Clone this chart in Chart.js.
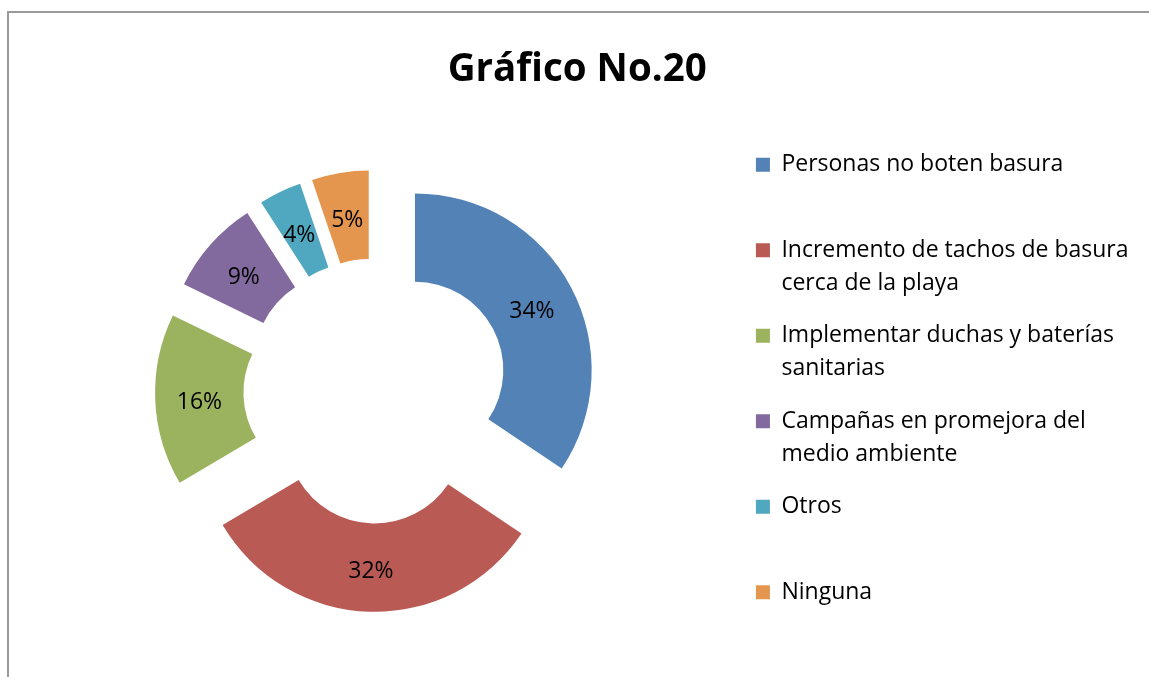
<!DOCTYPE html>
<html lang="es">
<head>
    <meta charset="UTF-8">
    <meta name="viewport" content="width=device-width, initial-scale=1.0">
    <title>Gráfico No.20</title>
    <style>
        body { margin: 0; background: #fff; overflow: hidden; }
        .marco {
            position: absolute; left: 7px; top: 11px; width: 1200px; height: 720px;
            border-left: 2px solid #9a9a9a; border-top: 2px solid #9a9a9a;
        }
        .chart_container { position: absolute; left: 0; top: 0; width: 1149px; height: 677px; }
    </style>
</head>
<body>
    <div class="marco"></div>
    <div class="chart_container">
        <canvas id="grafico"></canvas>
    </div>
</body>

<script src="https://cdn.jsdelivr.net/npm/chart.js"></script>
<script>
    const categorias = [
        'Personas no boten basura',
        'Incremento de tachos de basura cerca de la playa',
        'Implementar duchas y baterías sanitarias',
        'Campañas en promejora del medio ambiente',
        'Otros',
        'Ninguna'
    ];
    // texto de la leyenda partido en lineas como en el original
    const lineasLeyenda = [
        ['Personas no boten basura', ''],
        ['Incremento de tachos de basura', 'cerca de la playa'],
        ['Implementar duchas y baterías', 'sanitarias'],
        ['Campañas en promejora del', 'medio ambiente'],
        ['Otros', ''],
        ['Ninguna']
    ];
    const valores = [34.4, 32.1, 15.7, 8.7, 3.9, 5.2];
    const colores = ['#5382b7', '#ba5a55', '#9bb25e', '#82699e', '#4fa8c0', '#e4964f'];

    const fuente = 'Open Sans';

    // separa cada porcion del centro (doughnut "explotado")
    const separar = {
        id: 'separar',
        afterDatasetUpdate(chart, args, opts) {
            args.meta.data.forEach(arc => {
                const mitad = (arc.startAngle + arc.endAngle) / 2;
                arc.x += Math.cos(mitad) * opts.distancia;
                arc.y += Math.sin(mitad) * opts.distancia;
            });
        }
    };

    // porcentajes dentro de cada porcion
    const porcentajes = {
        id: 'porcentajes',
        afterDatasetsDraw(chart) {
            const ctx = chart.ctx;
            const total = valores.reduce((a, b) => a + b, 0);
            ctx.save();
            ctx.font = '23px "' + fuente + '"';
            ctx.fillStyle = '#000';
            ctx.textAlign = 'center';
            ctx.textBaseline = 'middle';
            chart.getDatasetMeta(0).data.forEach((arc, i) => {
                const p = arc.tooltipPosition();
                ctx.fillText(Math.round(valores[i] / total * 100) + '%', p.x, p.y + 4);
            });
            ctx.restore();
        }
    };

    new Chart(document.getElementById('grafico'), {
        type: 'doughnut',
        data: {
            labels: categorias,
            datasets: [{
                data: valores,
                backgroundColor: colores,
                borderWidth: 0,
                offset: 0,
                hoverOffset: 0
            }]
        },
        options: {
            responsive: true,
            maintainAspectRatio: false,
            animation: false,
            events: [],
            radius: 176.7,
            cutout: '50%',
            layout: { padding: { left: 16, right: 10.5, top: 0, bottom: 28.5 } },
            plugins: {
                separar: { distancia: 44.2 },
                tooltip: { enabled: false },
                title: {
                    display: true,
                    text: 'Gráfico No.20',
                    color: '#000',
                    font: { family: fuente, size: 38.5, weight: 'bold', lineHeight: 1.2 },
                    padding: { top: 46.5, bottom: 40.6 }
                },
                legend: {
                    position: 'right',
                    align: 'start',
                    fullSize: false,
                    labels: {
                        boxWidth: 14,
                        boxHeight: 14,
                        padding: 20,
                        color: '#000',
                        font: { family: fuente, size: 23, lineHeight: 1.424 },
                        generateLabels(chart) {
                            return lineasLeyenda.map((lineas, i) => ({
                                text: lineas,
                                fillStyle: colores[i],
                                strokeStyle: colores[i],
                                lineWidth: 0,
                                hidden: false,
                                index: i
                            }));
                        }
                    }
                }
            }
        },
        plugins: [separar, porcentajes]
    });
</script>
</html>
